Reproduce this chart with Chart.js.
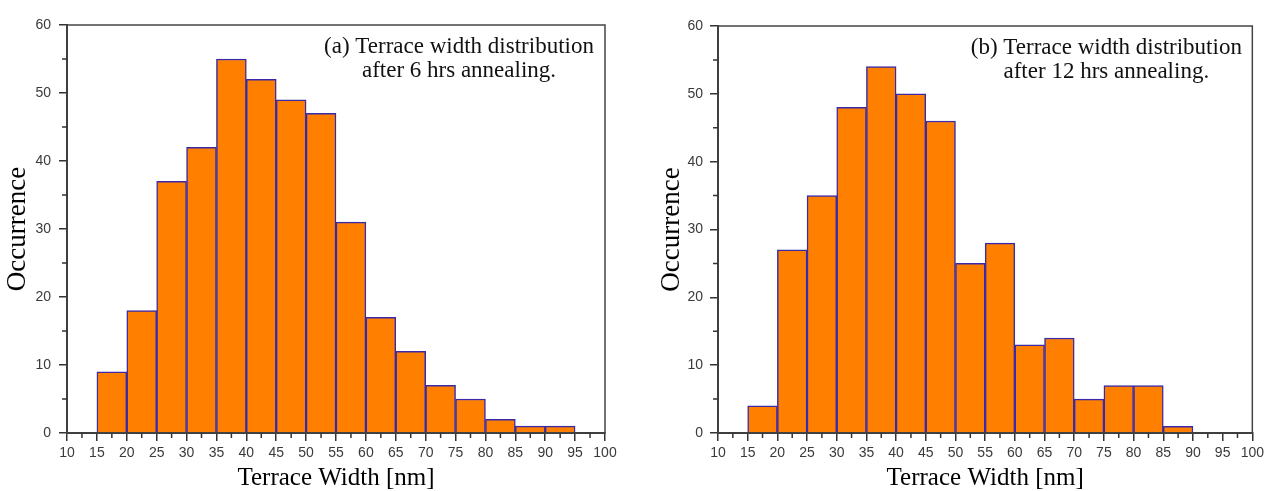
<!DOCTYPE html>
<html>
<head>
<meta charset="utf-8">
<script src="https://cdn.jsdelivr.net/npm/chart.js@4.4.0/dist/chart.umd.min.js"></script>
<style>
  html,body{margin:0;padding:0;background:#fff;}
  .wrap{position:relative;width:1268px;height:491px;}
  .box{position:absolute;top:0;width:634px;height:491px;}
</style>
</head>
<body>
<div class="wrap">
  <div class="box" style="left:0"><canvas id="chartA" width="634" height="491"></canvas></div>
  <div class="box" style="left:634px"><canvas id="chartB" width="634" height="491"></canvas></div>
</div>
<script>
/* DADOS */
const binStarts = [15,20,25,30,35,40,45,50,55,60,65,70,75,80,85,90];
const binWidth = 5;
const countsA = [9,18,37,42,55,52,49,47,31,17,12,7,5,2,1,1];
const countsB = [4,27,35,48,54,50,46,25,28,13,14,5,7,7,1];
const xMin = 10, xMax = 100, xStep = 5;
const yMin = 0, yMax = 60, yStep = 10;
const xTitle = "Terrace Width [nm]";
const yTitle = "Occurrence";
const notaA = ["(a) Terrace width distribution", "after 6 hrs annealing."];
const notaB = ["(b) Terrace width distribution", "after 12 hrs annealing."];

const corAxis = "#333";

/* moldura + ticks menores + texto */
const extrasPlugin = {
  id: "extras",
  afterDraw(chart, args, opts){
    const {ctx, chartArea:a, scales} = chart;
    ctx.save();
    // moldura (topo e direita)
    ctx.strokeStyle = "#444";
    ctx.lineWidth = 1.5;
    ctx.strokeRect(a.left, a.top, a.right - a.left, a.bottom - a.top);
    // ticks menores
    ctx.strokeStyle = corAxis;
    ctx.beginPath();
    const xt = scales.x.ticks;
    for(let i=0;i<xt.length-1;i++){
      const px = scales.x.getPixelForValue((xt[i].value + xt[i+1].value)/2);
      ctx.moveTo(px, a.bottom); ctx.lineTo(px, a.bottom + 5);
    }
    const yt = scales.y.ticks;
    for(let i=0;i<yt.length-1;i++){
      const py = scales.y.getPixelForValue((yt[i].value + yt[i+1].value)/2);
      ctx.moveTo(a.left, py); ctx.lineTo(a.left - 5, py);
    }
    ctx.stroke();
    // anotação
    ctx.fillStyle = "#111";
    ctx.font = '23px "Liberation Serif"';
    ctx.textAlign = "center";
    ctx.textBaseline = "alphabetic";
    opts.linhas.forEach((t,i)=>{
      ctx.fillText(t, a.right - 146, a.top + 28 + i*24);
    });
    ctx.restore();
  }
};

function criarHistograma(id, counts, linhas, g){
  return new Chart(document.getElementById(id), {
    type: "bar",
    data: {
      datasets: [{
        data: counts.map((c,i)=>({x: binStarts[i] + binWidth/2, y: c})),
        backgroundColor: "#ff8000",
        borderColor: "#3a2aa8",
        borderWidth: 1.5,
        barPercentage: 1,
        categoryPercentage: 1
      }]
    },
    options: {
      responsive: false,
      animation: false,
      layout: {padding: {top: g.top, right: g.right, bottom: 0, left: 0}},
      plugins: {legend: {display: false}, tooltip: {enabled: false}, extras: {linhas}},
      scales: {
        x: {
          type: "linear", min: xMin, max: xMax, offset: false,
          afterFit: s => { s.height = 58; },
          ticks: {stepSize: xStep, autoSkip: false, maxRotation: 0, padding: 4,
                  color: "#3a3a3a", font: {family: "Liberation Sans", size: 14}},
          grid: {drawOnChartArea: false, offset: false, tickLength: 8, color: corAxis, lineWidth: 1.5},
          border: {display: true, color: corAxis, width: 2},
          title: {display: true, text: xTitle, color: "#000", padding: {top: 0, bottom: 0},
                  font: {family: "Liberation Serif", size: 25, lineHeight: 1}}
        },
        y: {
          min: yMin, max: yMax,
          afterFit: s => { s.width = g.yWidth; },
          ticks: {stepSize: yStep, padding: g.yPad,
                  color: "#3a3a3a", font: {family: "Liberation Sans", size: 14}},
          grid: {drawOnChartArea: false, tickLength: 8, color: corAxis, lineWidth: 1.5},
          border: {display: true, color: corAxis, width: 2},
          title: {display: true, text: yTitle, color: "#000", padding: {top: g.yTitlePad, bottom: 0},
                  font: {family: "Liberation Serif", size: 27, lineHeight: 1}}
        }
      }
    },
    plugins: [extrasPlugin]
  });
}

criarHistograma("chartA", countsA, notaA, {top: 25, right: 29, yWidth: 67, yPad: 8, yTitlePad: 4});
criarHistograma("chartB", countsB, notaB, {top: 26, right: 15, yWidth: 84, yPad: 7, yTitlePad: 24.5});
</script>
</body>
</html>
